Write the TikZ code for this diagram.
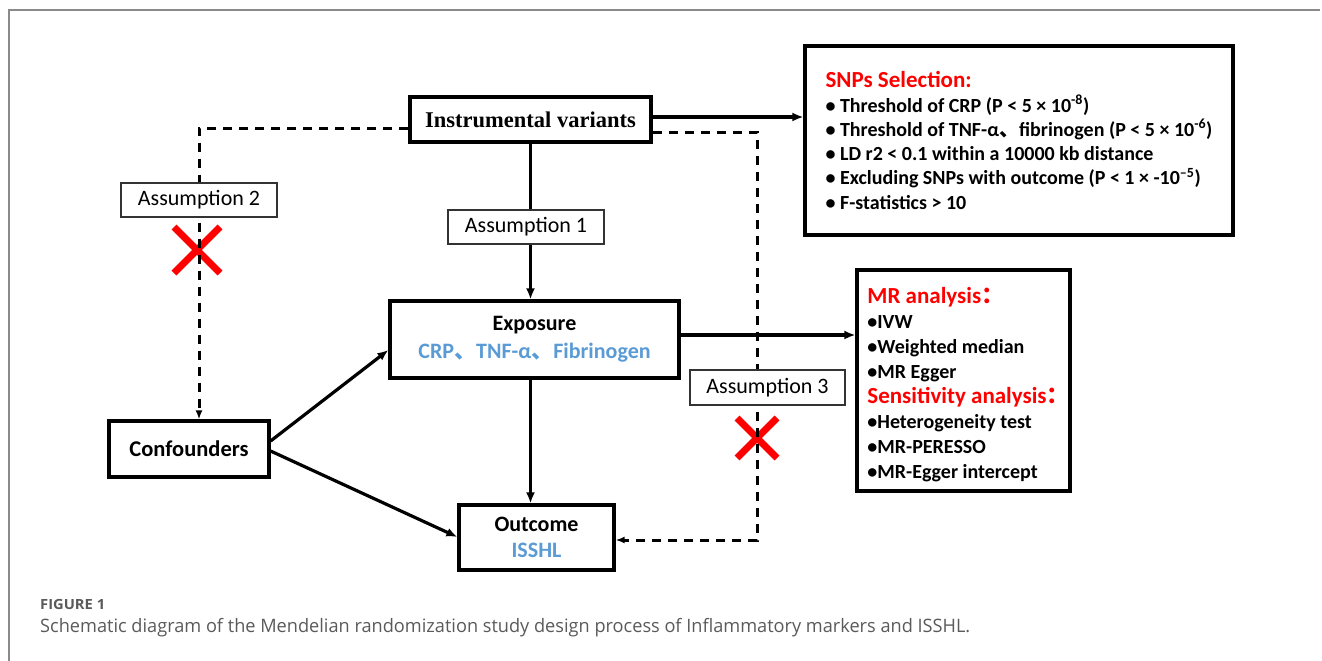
\documentclass[tikz,border=0pt]{standalone}
\usepackage{fontspec}
\usepackage{graphicx}
\setmainfont{Carlito}
\newfontfamily\serf{Liberation Serif}
\newfontfamily\cjk{Noto Sans CJK SC}
\newfontfamily\capf{Open Sans}
\usetikzlibrary{arrows.meta}
\definecolor{expblue}{HTML}{5B9BD5}
\definecolor{xred}{HTML}{FF0000}
\definecolor{framegray}{HTML}{8A8A8A}
\definecolor{capgray}{HTML}{5A5A5A}
\newcommand{\dun}{{\cjk 、}}
\newcommand{\fcolon}{\makebox[13pt][l]{\cjk ：}}
\begin{document}
\begin{tikzpicture}[x=1pt,y=-1pt,
 mainbox/.style={draw, line width=3.2pt, inner sep=0pt, align=center},
 asmbox/.style={draw=black!80, line width=1.2pt, fill=white, inner sep=0pt, font=\fontsize{22}{24}\selectfont},
 arr/.style={line width=3.2pt, -{Latex[length=11pt,width=9pt]}},
 dsh/.style={line width=3pt, dash pattern=on 9pt off 7pt, -{Latex[length=9pt,width=7pt]}},
 xmark/.style={line width=7pt, xred}
]
\useasboundingbox (0,0) rectangle (1322,661);
\draw[framegray, line width=2pt] (9,661) -- (9,10) -- (1320,10);

% main nodes
\node[mainbox, minimum width=241, minimum height=45, font=\serf\bfseries\fontsize{22.5}{24}\selectfont] (iv) at (530.5,119.5) {Instrumental variants};
\node[mainbox, minimum width=289, minimum height=77, font=\bfseries\fontsize{22}{28}\selectfont] (exp) at (534.5,339.5) {Exposure\\\textcolor{expblue}{CRP\dun TNF-α\dun Fibrinogen}};
\node[mainbox, minimum width=155, minimum height=65, font=\bfseries\fontsize{22}{26}\selectfont] (out) at (536.5,537.5) {Outcome\\\textcolor{expblue}{ISSHL}};
\node[mainbox, minimum width=160, minimum height=56, font=\bfseries\fontsize{22.5}{26}\selectfont] (conf) at (189,449) {Confounders};
\node[mainbox, align=left, minimum width=428, minimum height=189, font=\bfseries\fontsize{20}{24.3}\selectfont] (snp) at (1019,140.5) {\textcolor{xred}{\fontsize{23}{24}\selectfont SNPs Selection:}\\
• Threshold of CRP (P < 5 × 10\textsuperscript{-8})\\
• Threshold of TNF-α\dun fibrinogen (P < 5 × 10\textsuperscript{-6})\\
• LD r2 < 0.1 within a 10000 kb distance\\
• Excluding SNPs with outcome (P < 1 × -10\textsuperscript{–5})\\
• F-statistics > 10};
\node[mainbox, align=left, minimum width=213, minimum height=221, inner ysep=0pt, font=\bfseries\fontsize{20}{25}\selectfont] (mr) at (963.5,380.5) {\rule{0pt}{25pt}\textcolor{xred}{\fontsize{23}{25}\selectfont MR analysis\fcolon}\\
•IVW\\
•Weighted median\\
•MR Egger\\
\textcolor{xred}{\fontsize{23}{25}\selectfont Sensitivity analysis\fcolon}\\
•Heterogeneity test\\
•MR-PERESSO\\
•MR-Egger intercept};

% helper coordinates
\coordinate (y117) at (0,117);
\coordinate (y335) at (0,335);
\coordinate (y441) at (0,441);
\coordinate (y350) at (0,350);
\coordinate (y450) at (0,451);
\coordinate (y537) at (0,537);
\coordinate (l2) at (199,128);
\coordinate (r3) at (757,132);
\coordinate (r4) at (757,540);

% red crosses
\draw[xmark] (174,227) -- (220,273) (174,273) -- (220,227);
\draw[xmark] (737,418) -- (777,458) (737,458) -- (777,418);

% solid connectors
\draw[arr] (iv.east |- y117) -- (snp.west |- y117);
\draw[arr] (iv.south) -- (exp.north -| iv.south);
\draw[arr] (exp.east |- y335) -- (mr.west |- y335);
\draw[arr] (exp.south -| iv.south) -- (out.north -| iv.south);
\draw[arr] (conf.east |- y441) -- (exp.west |- y350);
\draw[arr] (conf.east |- y450) -- (out.west |- y537);

% dashed connectors
\draw[dsh] (iv.west |- l2) -- (l2) -- (conf.north -| l2);
\draw[dsh] (iv.east |- r3) -- (r3) -- (r4) -- (out.east |- r4);

% assumption labels
\node[asmbox, minimum width=156, minimum height=34] (a1) at (526,227) {Assumption 1};
\node[asmbox, minimum width=156, minimum height=34] (a2) at (199,200) {Assumption 2};
\node[asmbox, minimum width=155, minimum height=35] (a3) at (767.5,387.5) {Assumption 3};

% caption
\node[anchor=west, inner sep=0pt, text=capgray, font=\capf\bfseries\fontsize{14}{16}\selectfont] (figlab) at (40,604) {\resizebox{65pt}{\height}{FIGURE 1}};
\node[anchor=west, inner sep=0pt, text=capgray, font=\capf\fontsize{18.5}{20}\selectfont] (cap) at (40,628) {\resizebox{930pt}{\height}{Schematic diagram of the Mendelian randomization study design process of Inflammatory markers and ISSHL.}};
\end{tikzpicture}
\end{document}
